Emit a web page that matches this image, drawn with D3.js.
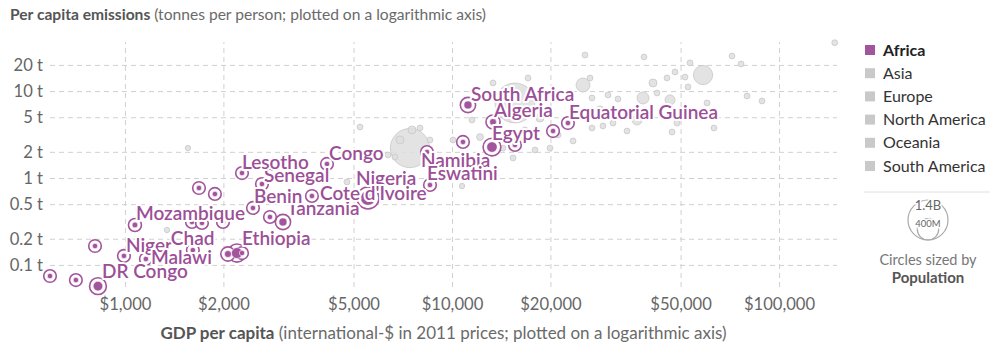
<!DOCTYPE html>
<html><head><meta charset="utf-8">
<script src="https://cdn.jsdelivr.net/npm/d3@7"></script>
<style>
body{margin:0;background:#fff;}
svg{font-family:Lato,"Noto Sans",sans-serif;}
</style></head><body>
<svg id="chart" width="1004" height="358"></svg>
<script>
// ---------- data ----------
const yTicks = [0.1, 0.2, 0.5, 1, 2, 5, 10, 20];
const yTickLabels = ["0.1 t", "0.2 t", "0.5 t", "1 t", "2 t", "5 t", "10 t", "20 t"];
const xTicks = [1000, 2000, 5000, 10000, 20000, 50000, 100000];
const xTickLabels = ["$1,000", "$2,000", "$5,000", "$10,000", "$20,000", "$50,000", "$100,000"];
const continents = ["Africa", "Asia", "Europe", "North America", "Oceania", "South America"];

// African countries (highlighted)
const africaNames = ["Burundi","Central African Republic","DR Congo","Liberia","Niger","Malawi","Mozambique",
  "Comoros","Sao Tome and Principe","Burkina Faso","Guinea","Mali","Chad","Uganda","Ethiopia","Rwanda",
  "Lesotho","Senegal","Benin","Togo","Tanzania","Cote d'Ivoire","Congo","Nigeria","Eswatini","Namibia",
  "Tunisia","South Africa","Algeria","Egypt","Botswana","Gabon","Equatorial Guinea"];
const africaGdp = [590,708,827,810,993,1159,1073,
  1684,1884,1603,1720,1994,1613,2065,2200,2280,
  2280,2624,2463,2776,3042,3731,4147,5535,8565,8385,
  10804,11190,13350,13250,15580,20370,22620];
const africaCo2 = [0.0745,0.067,0.057,0.165,0.127,0.117,0.288,
  0.767,0.655,0.312,0.304,0.312,0.148,0.1335,0.137,0.137,
  1.14,0.853,0.452,0.356,0.312,0.621,1.45,0.589,0.831,1.99,
  2.60,6.92,4.41,2.27,2.40,3.47,4.29];
const africaPop = [11,4.6,81,4.7,21,18,29,
  0.8,0.2,19,12,19,15,43,105,12,
  2.2,15.4,11,7.8,57,24,5.1,191,1.1,2.5,
  11.5,57,41,97,2.3,2,1.3]; // millions
const labelledCountries = ["South Africa","Algeria","Egypt","Equatorial Guinea","Namibia","Eswatini","Congo",
  "Lesotho","Senegal","Benin","Cote d'Ivoire","Nigeria","Tanzania","Mozambique","Ethiopia","Chad","Niger",
  "Malawi","DR Congo"];

// Other continents (greyed)
const otherContinent = ["Asia","North America","Asia","South America","Asia","Asia","Asia","North America",
  "Asia","Asia","South America","Asia","South America","Asia","South America","South America","North America",
  "Asia","Europe","Asia","Oceania","Europe","Europe","Europe","Europe","Europe","Asia","Europe","Europe",
  "Europe","Europe","Oceania","Europe","Europe","North America","Europe","Asia","Europe","Europe","Asia",
  "Asia","Europe","Europe","Asia","South America","Europe","Europe","Europe","Europe","Europe",
  "Asia","South America","Asia","Europe","North America","Asia","South America","Europe","Europe"];
const otherGdp = [1558,1344,4774,10730,5233,7437,15580,58570,
  13350,17080,11510,7545,7982,6373,10070,12180,15370,
  14320,19940,25510,38650,26430,25160,26800,30000,32180,38380,41180,42360,
  45440,46420,48080,48760,47080,51590,52690,53430,60240,63260,71830,
  76530,79820,88720,148000,23450,26800,28950,34290,36800,31070,
  6693,8565,18580,16720,17940,6934,9191,28350,21100];
const otherCo2 = [2.21,0.252,0.90,0.809,3.86,2.21,7.3,15.3,
  12.4,14.15,4.65,3.57,3.76,1.84,2.74,2.96,1.70,
  2.21,2.21,26.0,24.7,14.15,11.75,8.33,9.02,8.11,8.33,12.4,9.51,
  14.15,7.90,16.6,4.29,3.38,14.5,11.15,21.1,7.3,3.76,25.3,
  20.5,8.78,7.69,36,2.67,3.76,3.97,3.47,4.65,4.29,
  1.74,2.74,4.90,3.57,2.10,2.74,1.70,6.06,3.13];
const otherPop = [5,20,30,20,30,1340,1390,325,
  30,30,30,56,30,30,30,40,30,
  30,30,30,30,30,171,30,30,30,126,56,30,
  30,88,30,30,30,30,30,30,30,30,30,
  30,30,30,30,30,30,30,30,88,30,
  30,30,56,30,30,56,30,56,30]; // millions

// ---------- layout / style ----------
const purple = "#a2559c";
const labelOffsets = {
  "South Africa":[3,-4], "Algeria":[1,-5], "Egypt":[0,-7], "Equatorial Guinea":[1,-4],
  "Namibia":[-6,15], "Eswatini":[-3,-5], "Congo":[2,-4], "Lesotho":[0,-4], "Senegal":[2,-2],
  "Benin":[1,-5], "Cote d'Ivoire":[8,4], "Nigeria":[-12,-13], "Tanzania":[4,-7],
  "Mozambique":[1,-5], "Ethiopia":[5,-8], "Chad":[-22,-5], "Niger":[2,-4], "Malawi":[5,5],
  "DR Congo":[4,-8]
};

const svg = d3.select("#chart");
const x = d3.scaleLog().domain([590, 150400]).range([50, 837]);
const y = d3.scaleLog().domain([0.0557, 36.7]).range([287, 42]);
const rs = d3.scaleSqrt().domain([0, 1.4e9]).range([0, 20]);
const rad = p => Math.max(2.7, rs(p * 1e6));

// title
const title = svg.append("text").attr("x", 10).attr("y", 20).attr("font-size", 15.6).attr("fill", "#555");
title.append("tspan").attr("font-weight", 700).text("Per capita emissions");
title.append("tspan").attr("fill", "#6a6a6a").text(" (tonnes per person; plotted on a logarithmic axis)");

// axes with gridlines
const [xl, xr] = x.range();
const [yb, yt] = y.range();
const gy = svg.append("g").attr("transform", `translate(${xl},0)`)
  .call(d3.axisLeft(y).tickValues(yTicks).tickFormat((d, i) => yTickLabels[i])
    .tickSize(-(xr - xl)).tickPadding(7));
const gx = svg.append("g").attr("transform", `translate(0,${yb})`)
  .call(d3.axisBottom(x).tickValues(xTicks).tickFormat((d, i) => xTickLabels[i])
    .tickSize(-(yb - yt)).tickPadding(11));
[gx, gy].forEach(g => {
  g.select(".domain").remove();
  g.selectAll(".tick line").attr("stroke", "#d0d0d0").attr("stroke-dasharray", "5,4");
  g.selectAll(".tick text").attr("fill", "#666").attr("font-size", 16.6).attr("font-family", "Lato");
});

// x axis title
const xt = svg.append("text").attr("x", (xl + xr) / 2).attr("y", 339).attr("text-anchor", "middle")
  .attr("font-size", 17).attr("fill", "#555");
xt.append("tspan").attr("font-weight", 700).text("GDP per capita");
xt.append("tspan").attr("fill", "#6a6a6a").text(" (international-$ in 2011 prices; plotted on a logarithmic axis)");

// grey points
const others = otherGdp.map((g, i) => ({gdp: g, co2: otherCo2[i], pop: otherPop[i], cont: otherContinent[i]}))
  .sort((a, b) => b.pop - a.pop);
svg.append("g").selectAll("circle").data(others).join("circle")
  .attr("cx", d => x(d.gdp)).attr("cy", d => y(d.co2)).attr("r", d => rad(d.pop))
  .attr("fill", "#dedede").attr("stroke", "#c8c8c8").attr("stroke-width", 0.8).attr("fill-opacity", 0.85);

// african points
const africa = africaNames.map((n, i) => ({name: n, gdp: africaGdp[i], co2: africaCo2[i], pop: africaPop[i]}))
  .sort((a, b) => b.pop - a.pop);
const ga = svg.append("g");
ga.selectAll("circle.ring").data(africa).join("circle").attr("class", "ring")
  .attr("cx", d => x(d.gdp)).attr("cy", d => y(d.co2)).attr("r", d => rad(d.pop) + 3.6)
  .attr("fill", "#fff").attr("stroke", purple).attr("stroke-width", 1.6);
ga.selectAll("circle.dot").data(africa).join("circle").attr("class", "dot")
  .attr("cx", d => x(d.gdp)).attr("cy", d => y(d.co2)).attr("r", d => rad(d.pop))
  .attr("fill", purple).attr("stroke", "#fff").attr("stroke-width", 0.6);

// labels
const labs = africa.filter(d => labelledCountries.includes(d.name));
svg.append("g").selectAll("text").data(labs).join("text")
  .attr("x", d => x(d.gdp) + labelOffsets[d.name][0])
  .attr("y", d => y(d.co2) + labelOffsets[d.name][1])
  .attr("font-size", 19).attr("font-weight", 600).attr("fill", "#9c4f97")
  .attr("stroke", "#fff").attr("stroke-width", 4).attr("stroke-linejoin", "round")
  .attr("paint-order", "stroke")
  .text(d => d.name);

// legend
const lg = svg.append("g");
const rowY = d3.scalePoint().domain(continents).range([50, 166]);
const li = lg.selectAll("g").data(continents).join("g").attr("transform", d => `translate(865,${rowY(d)})`);
li.append("rect").attr("x", 0).attr("y", -5).attr("width", 10).attr("height", 10)
  .attr("fill", d => d === "Africa" ? purple : "#c9c9c9");
li.append("text").attr("x", 18).attr("dy", "0.35em").attr("font-size", 16)
  .attr("fill", d => d === "Africa" ? "#222" : "#333")
  .attr("font-weight", d => d === "Africa" ? 700 : 400).text(d => d);
lg.append("line").attr("x1", 864).attr("x2", 990).attr("y1", 192).attr("y2", 192)
  .attr("stroke", "#e0e0e0").attr("stroke-width", 1);

// size legend
const sizeVals = [1.4e9, 4e8];
const sizeLabels = ["1.4B", "400M"];
const sl = lg.append("g").attr("transform", "translate(928,240)");
sl.selectAll("circle").data(sizeVals).join("circle")
  .attr("cx", 0).attr("cy", d => -rs(d)).attr("r", d => rs(d))
  .attr("fill", "none").attr("stroke", "#aaa").attr("stroke-width", 1.2);
sl.selectAll("text").data(sizeVals).join("text")
  .attr("x", 0).attr("y", d => -2 * rs(d) + 5).attr("dy", "0.35em").attr("text-anchor", "middle")
  .attr("font-size", (d, i) => i === 0 ? 13 : 9.5).attr("fill", "#666")
  .attr("stroke", "#fff").attr("stroke-width", 3).attr("paint-order", "stroke")
  .text((d, i) => sizeLabels[i]);
lg.append("text").attr("x", 928).attr("y", 265).attr("text-anchor", "middle")
  .attr("font-size", 14.5).attr("fill", "#777").text("Circles sized by");
lg.append("text").attr("x", 928).attr("y", 283).attr("text-anchor", "middle")
  .attr("font-size", 15).attr("font-weight", 700).attr("fill", "#555").text("Population");
</script>
</body></html>
